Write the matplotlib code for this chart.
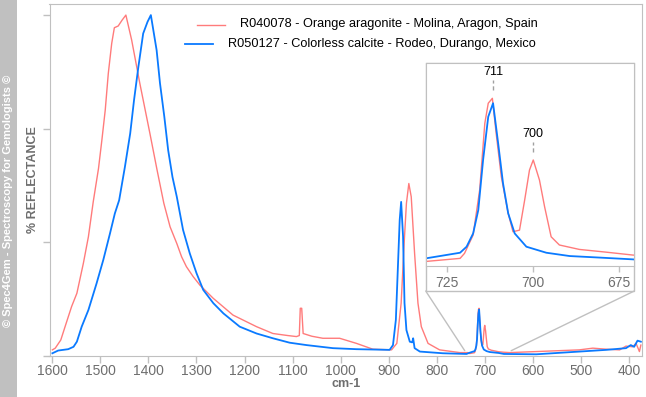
import matplotlib
matplotlib.use('Agg')
import matplotlib.pyplot as plt
from matplotlib.patches import Rectangle, ConnectionPatch

plt.rcParams['font.family'] = ['Liberation Sans', 'DejaVu Sans']

# spectra (normalised reflectance, cm-1)
arag_x = [1600, 1594, 1582.5, 1573.6, 1560, 1549, 1535.5, 1525, 1515, 1504, 1497, 1490, 1483.6, 1476.5,
          1471, 1463, 1455, 1447, 1435, 1418, 1397, 1382, 1368, 1355, 1341, 1331, 1321, 1307, 1293, 1265,
          1224, 1175, 1141, 1110, 1092, 1086, 1084, 1081, 1078, 1060, 1037, 1002, 967, 933, 894, 883, 874,
          867, 863, 858, 853, 846, 839, 832, 818, 794, 752, 735,
          731.3, 721.3, 720, 717.5, 715.6, 714.1, 713.1, 711.9, 710.8, 709.3, 707.3, 705.9, 704,
          702.5, 701.1, 700, 698.2, 696.7, 694.8, 692.4, 686.6, 678.9, 671,
          660, 648, 593, 503, 475, 447, 419, 406, 392, 385, 378, 375]
arag_y = [0.018, 0.023, 0.047, 0.086, 0.145, 0.184, 0.272, 0.350, 0.452, 0.550, 0.633, 0.721, 0.829, 0.917,
          0.963, 0.968, 0.985, 1.000, 0.927, 0.800, 0.653, 0.545, 0.448, 0.379, 0.330, 0.291, 0.262, 0.233,
          0.208, 0.169, 0.120, 0.086, 0.066, 0.060, 0.057, 0.060, 0.140, 0.140, 0.066, 0.058, 0.052, 0.052,
          0.037, 0.020, 0.018, 0.037, 0.155, 0.350, 0.448, 0.506, 0.467, 0.301, 0.155, 0.086, 0.037, 0.018,
          0.010, 0.010,
          0.0072, 0.0097, 0.0138, 0.0287, 0.0653, 0.1196, 0.136, 0.140, 0.1115, 0.0762, 0.0464, 0.0314, 0.0327,
          0.0572, 0.0816, 0.0898, 0.0735, 0.0517, 0.0273, 0.0206, 0.0170, 0.0148, 0.0124,
          0.011, 0.010, 0.013, 0.018, 0.023, 0.020, 0.018, 0.029, 0.027, 0.037, 0.013, 0.032]

calc_x = [1600, 1588, 1567, 1556, 1549, 1539, 1525, 1508, 1494, 1480, 1470, 1461, 1449, 1438,
          1430, 1421, 1411, 1402, 1395, 1383, 1376, 1367, 1359, 1350, 1341, 1328, 1314, 1300,
          1286, 1265, 1244, 1210, 1175, 1141, 1106, 1071, 1016, 967, 898, 891, 885, 881, 877,
          874, 870, 867, 863, 856, 851, 849, 846, 835, 787, 738,
          731.3, 721.3, 719.4, 717.5, 716, 714.6, 713.1, 711.7, 710.2, 708.8, 707.3, 705.4, 702,
          696.2, 689.4, 681.7, 671,
          660, 593, 503, 447, 406, 396, 389, 382, 375]
calc_y = [0.008, 0.016, 0.020, 0.027, 0.042, 0.086, 0.135, 0.213, 0.282, 0.360, 0.418, 0.457, 0.555, 0.653,
          0.751, 0.848, 0.946, 0.980, 1.000, 0.897, 0.800, 0.702, 0.604, 0.525, 0.467, 0.370, 0.301, 0.243,
          0.194, 0.155, 0.125, 0.086, 0.066, 0.052, 0.039, 0.032, 0.023, 0.020, 0.018, 0.032, 0.106, 0.252, 0.399,
          0.452, 0.350, 0.155, 0.076, 0.042, 0.040, 0.052, 0.023, 0.013, 0.008, 0.006,
          0.0097, 0.0143, 0.0192, 0.030, 0.049, 0.0898, 0.125, 0.136, 0.103, 0.0708, 0.0464, 0.030, 0.0192,
          0.0143, 0.0116, 0.0105, 0.0089,
          0.006, 0.005, 0.013, 0.018, 0.023, 0.032, 0.027, 0.045, 0.042]

arag_label = 'R040078 - Orange aragonite - Molina, Aragon, Spain'
calc_label = 'R050127 - Colorless calcite - Rodeo, Durango, Mexico'
x_ticks = [1600, 1500, 1400, 1300, 1200, 1100, 1000, 900, 800, 700, 600, 500, 400]
inset_ticks = [725, 700, 675]
peaks = [(711.7, 0.140, '711'), (700, 0.0898, '700')]

RED = '#ff7b7b'
BLUE = '#0a7aff'
FRAME = '#c0c0c0'
TXT = '#6e6e6e'
W, H = 646, 397


def px_rect(l, t, r, b):
    return [l / W, 1 - b / H, (r - l) / W, (b - t) / H]


fig = plt.figure(figsize=(W / 100, H / 100), dpi=100)

# watermark strip
fig.add_artist(Rectangle((0, 0), 17 / W, 1, transform=fig.transFigure,
                         facecolor='#c0c0c0', edgecolor='none'))
fig.text(8.5 / W, 1 - 201 / H, '© Spec4Gem - Spectroscopy for Gemologists ©', rotation=90,
         color='white', fontweight='bold', fontsize=8, ha='center', va='center')

ax = fig.add_axes(px_rect(49.5, 3.5, 642.3, 356))
ax.plot(arag_x, arag_y, color=RED, lw=1)
ax.plot(calc_x, calc_y, color=BLUE, lw=1.3)
ax.set_xlim(1606, 372)
ax.set_ylim(0, 1.034)
ax.set_xticks(x_ticks)
ax.set_xticklabels([str(t) for t in x_ticks])
ax.set_yticks([0, 1 / 3, 2 / 3, 1])
ax.set_yticklabels([])
ax.tick_params(axis='both', color=FRAME, length=5, width=1, labelcolor=TXT, labelsize=10, pad=0.5)
for s in ax.spines.values():
    s.set_color(FRAME)

fig.text(33 / W, 1 - 180 / H, '% REFLECTANCE', rotation=90, color=TXT, fontweight='bold',
         fontsize=9, ha='center', va='center')
fig.text(346 / W, 1 - 384 / H, 'cm-1', color=TXT, fontweight='bold', fontsize=9,
         ha='center', va='center')

# legend, drawn by hand so the entries sit like the original
fig.add_artist(plt.Line2D([196.7 / W, 225 / W], [1 - 25 / H, 1 - 25 / H], color=RED, lw=1))
fig.add_artist(plt.Line2D([185 / W, 213.3 / W], [1 - 44 / H, 1 - 44 / H], color=BLUE, lw=1.3))
fig.text(240 / W, 1 - 24.5 / H, arag_label, fontsize=9.2, va='center', ha='left')
fig.text(228.3 / W, 1 - 43.5 / H, calc_label, fontsize=9.2, va='center', ha='left')

# inset frame and connector lines
fig.add_artist(Rectangle((425.7 / W, 1 - 291 / H), (634.3 - 425.7) / W, (291 - 63.3) / H,
                         transform=fig.transFigure, facecolor='white', edgecolor=FRAME, lw=1,
                         zorder=1))
for fx, dx in [(425.7, 741.6), (634.3, 645)]:
    con = ConnectionPatch(xyA=(fx / W, 1 - 291 / H), coordsA=fig.transFigure,
                          xyB=(dx, 0.0155), coordsB=ax.transData, color=FRAME, lw=1)
    fig.add_artist(con)

axin = fig.add_axes(px_rect(425.7, 63.3, 634.3, 266))
axin.set_zorder(2)
axin.plot(arag_x, arag_y, color=RED, lw=1)
axin.plot(calc_x, calc_y, color=BLUE, lw=1.3)
axin.set_xlim(731.3, 670.6)
axin.set_ylim(0.0035, 0.1685)
axin.set_xticks(inset_ticks)
axin.set_xticklabels([str(t) for t in inset_ticks])
axin.set_yticks([])
axin.tick_params(axis='x', color=FRAME, length=4, width=1, labelcolor=TXT, labelsize=10, pad=3)
for s in axin.spines.values():
    s.set_color(FRAME)

for px, py, lab in peaks:
    axin.plot([px, px], [py + 0.0065, py + 0.0145], color='#a0a0a0', lw=1, ls=(0, (3, 2)))
    axin.text(px, py + 0.0215, lab, fontsize=9, ha='center', va='center', color='black')

fig.savefig('out.png', dpi=100)
